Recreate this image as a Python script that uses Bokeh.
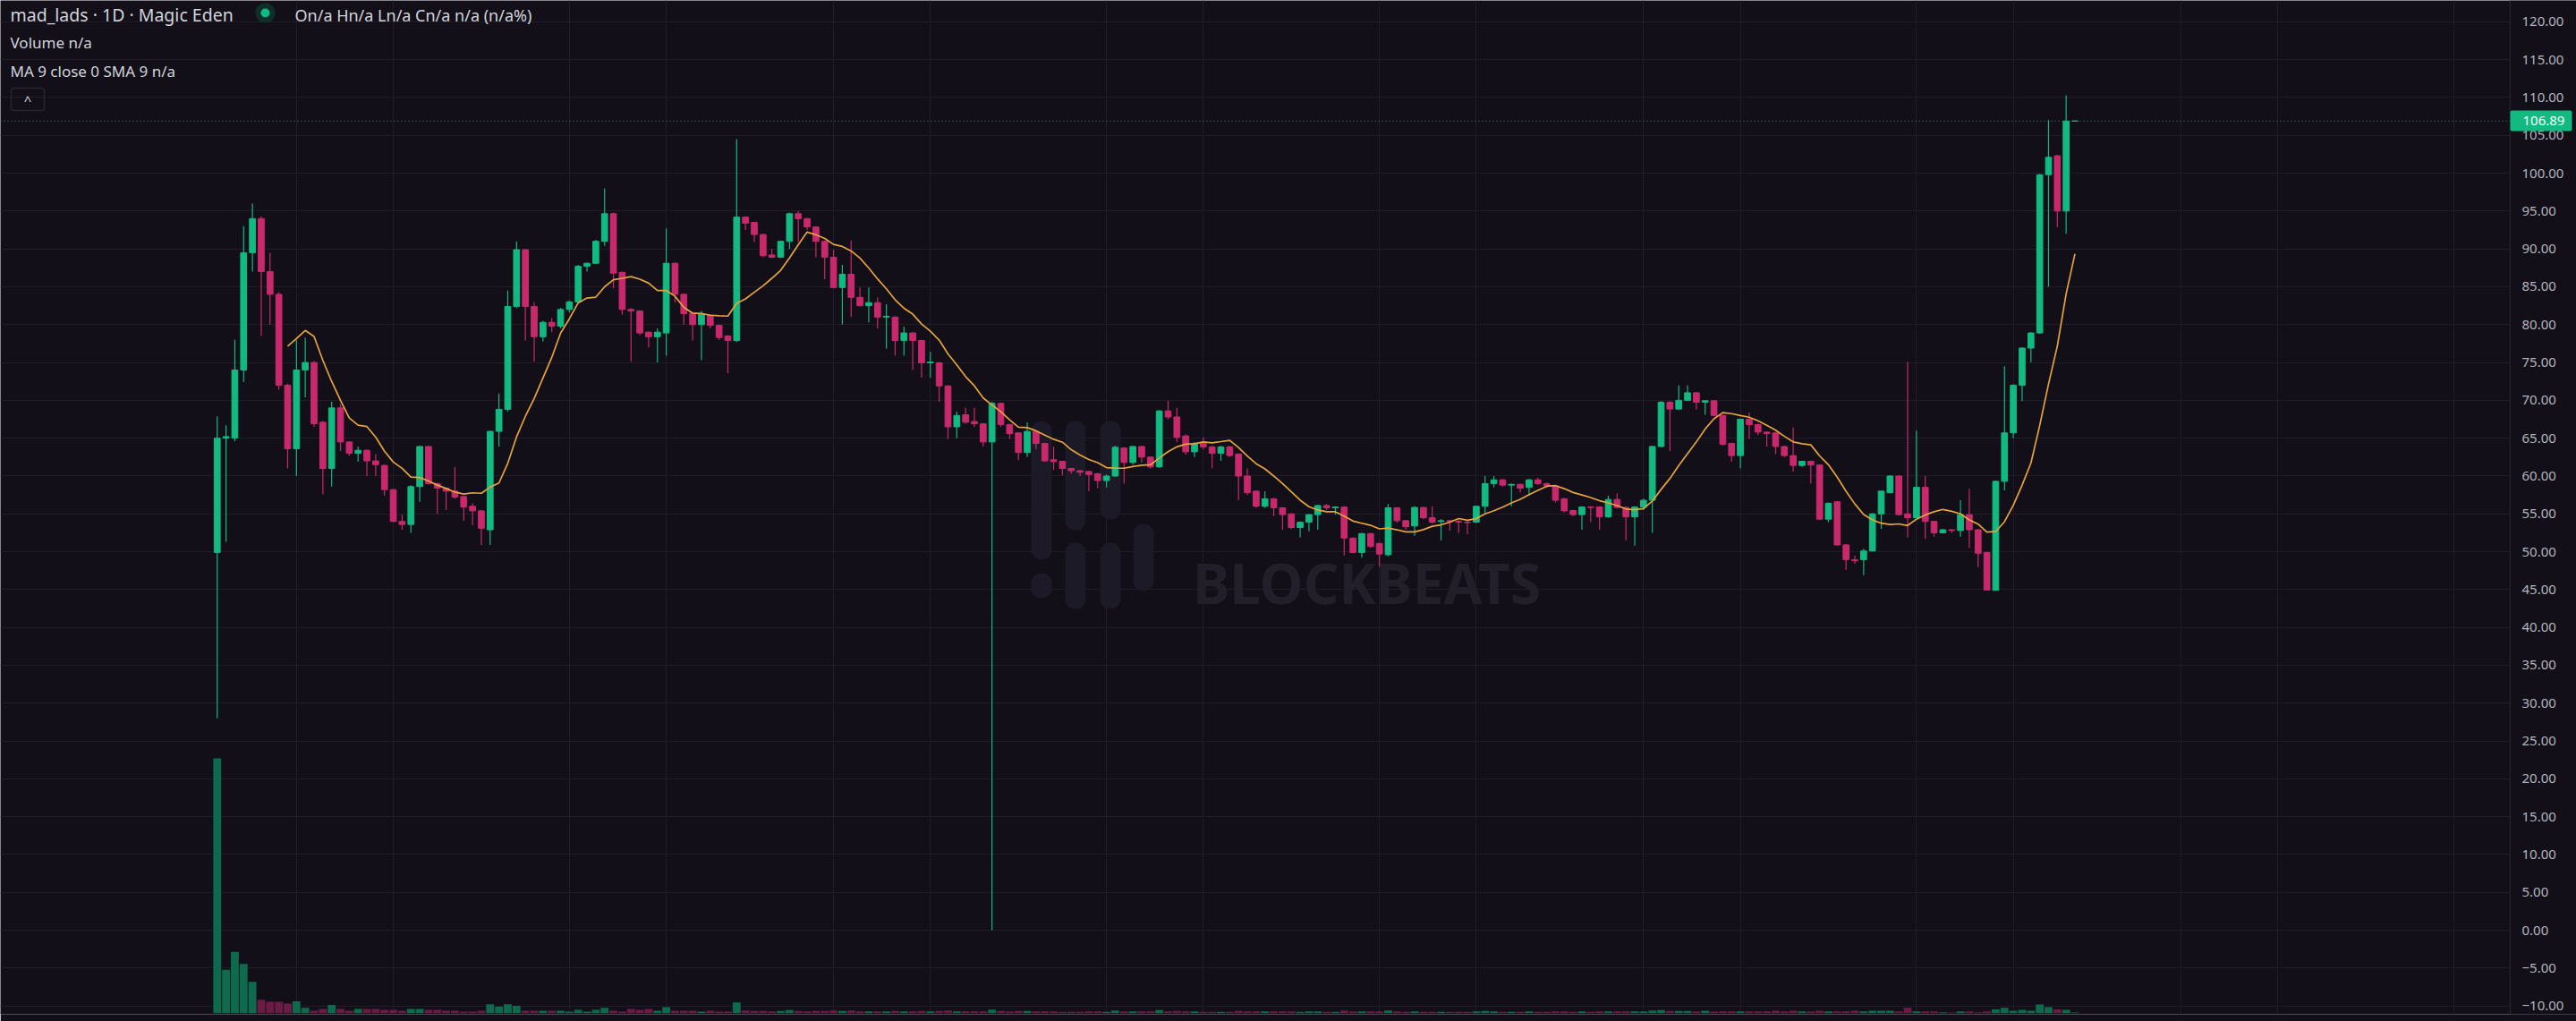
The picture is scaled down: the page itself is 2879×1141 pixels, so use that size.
import pandas as pd
from bokeh.plotting import figure
from bokeh.models import Range1d, FixedTicker, ColumnDataSource, Span, Label, BoxAnnotation
from bokeh.embed import file_html
from bokeh.resources import INLINE

# ---- data (daily candles, index 0 = first trading day) ----
opens = [
    49.9, 65.0, 65.0, 74.0, 89.5, 94.0, 87.0, 84.0, 72.0, 63.6,
    74.0, 75.0, 67.1, 61.0, 69.0, 64.5, 63.0, 63.4, 62.0, 61.4,
    58.2, 54.0, 53.6, 58.6, 63.9, 59.0, 58.4, 58.0, 57.3, 56.0,
    55.4, 52.9, 65.9, 68.8, 82.4, 89.9, 82.4, 78.4, 80.3, 79.8,
    82.0, 83.0, 87.7, 88.1, 91.0, 94.65, 86.9, 82.0, 81.8, 79.0,
    78.4, 78.9, 88.1, 84.0, 81.5, 80.0, 81.25, 79.9, 78.5, 77.9,
    94.2, 93.5, 91.9, 89.2, 88.9, 91.0, 94.65, 94.0, 92.9, 91.0,
    88.9, 84.9, 86.65, 83.6, 82.5, 82.9, 81.0, 81.0, 77.9, 78.9,
    77.9, 74.95, 74.95, 71.9, 66.5, 68.1, 67.2, 66.9, 64.5, 69.6,
    66.8, 65.7, 63.1, 65.9, 64.3, 62.15, 61.95, 61.0, 60.7, 60.6,
    60.3, 59.4, 60.0, 63.7, 61.8, 63.9, 62.5, 61.2, 68.6, 67.8,
    65.3, 63.2, 64.3, 63.85, 63.0, 63.85, 62.9, 60.0, 58.0, 56.0,
    57.0, 55.8, 55.0, 53.2, 53.9, 54.9, 56.1, 55.8, 55.9, 51.8,
    49.9, 52.4, 51.1, 49.6, 55.8, 54.1, 53.4, 55.85, 54.5, 54.0,
    54.1, 54.0, 53.9, 53.9, 56.0, 59.0, 59.5, 58.8, 58.9, 58.5,
    59.5, 59.0, 58.7, 57.0, 55.45, 54.9, 55.9, 55.9, 54.6, 56.9,
    55.85, 54.6, 55.9, 56.8, 63.9, 69.75, 68.85, 70.0, 71.0, 69.75,
    69.95, 68.0, 64.3, 62.7, 67.5, 66.8, 65.8, 65.7, 63.9, 62.7,
    61.4, 61.95, 61.45, 54.3, 56.6, 50.9, 48.95, 48.95, 50.1, 55.0,
    57.8, 60.0, 55.0, 54.5, 58.5, 54.0, 52.5, 52.9, 52.8, 54.9,
    52.9, 49.9, 44.9, 59.3, 65.7, 72.0, 76.9, 78.9, 99.8, 102.3,
    95.0, 106.89,
]
highs = [
    67.9, 66.7, 78.0, 93.0, 96.0, 94.3, 89.5, 84.3, 72.2, 78.0,
    78.3, 75.2, 67.3, 69.8, 69.5, 64.6, 63.9, 63.5, 62.9, 61.5,
    58.3, 54.9, 58.8, 64.0, 64.0, 59.1, 58.5, 61.2, 57.4, 56.4,
    55.5, 66.0, 70.9, 84.5, 91.0, 90.0, 83.0, 80.5, 80.9, 82.2,
    83.2, 87.9, 88.2, 91.2, 98.0, 94.8, 87.0, 82.2, 81.9, 79.1,
    79.5, 92.7, 88.2, 84.1, 81.6, 81.8, 81.4, 80.0, 78.6, 104.5,
    94.3, 93.6, 92.0, 90.0, 91.1, 94.8, 95.0, 94.1, 93.0, 91.1,
    89.9, 87.9, 91.1, 84.9, 84.9, 83.6, 82.7, 81.1, 79.75, 79.0,
    78.0, 76.4, 75.1, 72.0, 68.5, 69.0, 69.0, 67.0, 69.8, 69.7,
    66.9, 65.8, 67.1, 66.0, 64.4, 63.9, 62.0, 61.1, 60.8, 60.7,
    60.4, 60.2, 64.0, 63.8, 64.0, 64.0, 62.6, 68.7, 69.95, 69.0,
    65.5, 64.5, 65.1, 64.0, 64.0, 64.0, 63.0, 61.0, 58.1, 58.0,
    57.1, 55.9, 55.1, 54.0, 55.0, 56.2, 56.3, 56.0, 56.0, 51.9,
    52.5, 52.5, 51.2, 56.3, 55.9, 54.2, 56.0, 55.9, 56.0, 54.3,
    54.2, 54.2, 54.1, 56.1, 60.0, 60.0, 59.6, 59.0, 59.0, 59.6,
    59.8, 59.1, 58.8, 57.1, 55.5, 56.0, 56.0, 56.0, 57.4, 57.7,
    56.0, 56.0, 57.0, 64.0, 69.9, 69.9, 72.0, 72.0, 71.1, 70.0,
    70.0, 68.1, 64.4, 67.6, 68.4, 66.9, 65.9, 65.8, 64.0, 66.4,
    62.0, 62.0, 61.5, 56.5, 56.7, 51.0, 49.5, 50.4, 55.1, 58.1,
    60.1, 60.1, 75.1, 66.0, 60.0, 54.1, 53.0, 53.0, 56.8, 58.3,
    53.0, 50.0, 59.4, 74.5, 72.1, 77.0, 79.0, 99.9, 107.0, 102.4,
    110.3, 106.89,
]
lows = [
    28.0, 51.3, 64.6, 72.4, 87.0, 78.5, 80.0, 71.4, 61.0, 60.0,
    70.4, 66.5, 57.6, 58.6, 63.3, 62.7, 61.9, 60.0, 60.0, 57.4,
    53.9, 52.9, 52.5, 56.6, 58.9, 55.0, 55.5, 57.0, 54.1, 53.5,
    50.9, 50.9, 63.9, 68.5, 82.2, 77.9, 75.1, 77.8, 79.0, 79.5,
    81.6, 82.8, 87.0, 88.0, 90.4, 84.8, 81.3, 75.1, 78.6, 77.0,
    75.0, 75.9, 82.9, 80.0, 77.9, 75.3, 79.5, 78.0, 73.6, 77.7,
    92.5, 90.9, 88.9, 88.8, 88.8, 90.0, 90.9, 92.5, 88.9, 86.0,
    84.8, 80.0, 81.0, 82.4, 80.3, 79.5, 76.8, 75.9, 75.9, 74.0,
    73.0, 73.0, 69.8, 64.9, 65.0, 66.9, 66.5, 63.9, 0.0, 66.5,
    64.9, 62.1, 62.5, 63.5, 61.9, 60.8, 60.1, 60.3, 60.0, 58.0,
    58.4, 58.5, 59.9, 59.0, 61.5, 61.8, 61.0, 61.1, 67.5, 64.5,
    62.8, 62.5, 63.5, 61.0, 62.0, 62.5, 56.8, 57.5, 55.8, 55.8,
    54.7, 52.9, 53.0, 51.9, 52.7, 52.9, 55.5, 54.9, 49.5, 49.8,
    49.2, 50.5, 48.0, 49.4, 53.8, 52.9, 52.1, 54.3, 53.7, 51.5,
    52.8, 52.5, 52.3, 53.8, 55.0, 58.5, 58.6, 56.0, 57.8, 57.4,
    58.8, 58.5, 56.5, 55.2, 54.7, 52.9, 53.9, 52.9, 54.5, 55.7,
    51.5, 50.8, 55.5, 52.5, 63.8, 63.3, 68.7, 69.9, 68.8, 68.1,
    67.9, 64.0, 61.9, 61.0, 64.9, 65.4, 63.9, 62.9, 62.5, 60.6,
    61.2, 59.0, 54.2, 53.9, 50.8, 47.6, 48.4, 46.9, 50.0, 53.0,
    57.7, 54.8, 51.9, 54.4, 51.7, 52.0, 52.4, 52.5, 52.0, 50.5,
    47.9, 44.9, 44.85, 58.1, 65.0, 69.9, 75.0, 78.8, 85.0, 92.9,
    92.0, 106.89,
]
closes = [
    65.0, 65.2, 74.0, 89.5, 94.0, 87.0, 84.0, 72.0, 63.6, 74.0,
    75.0, 66.9, 61.0, 69.0, 64.5, 63.0, 63.4, 62.0, 61.5, 58.2,
    54.0, 53.6, 58.6, 63.9, 59.0, 58.4, 58.0, 57.2, 55.9, 55.4,
    53.1, 65.9, 68.8, 82.4, 89.9, 82.4, 78.4, 80.3, 79.8, 82.0,
    83.0, 87.7, 88.1, 91.0, 94.65, 86.8, 82.0, 81.8, 78.9, 78.4,
    79.0, 88.1, 84.0, 81.45, 80.0, 81.45, 79.9, 78.3, 77.9, 94.2,
    93.4, 91.9, 89.1, 88.9, 91.0, 94.65, 94.0, 92.9, 91.0, 88.9,
    84.9, 86.65, 83.6, 82.5, 82.9, 81.0, 81.1, 77.9, 78.9, 77.9,
    74.95, 75.05, 71.9, 66.5, 68.0, 67.1, 66.9, 64.5, 69.6, 66.8,
    65.6, 63.1, 65.9, 64.3, 62.0, 61.9, 61.0, 60.7, 60.5, 60.2,
    59.4, 60.0, 63.8, 61.8, 63.9, 62.5, 61.2, 68.6, 67.8, 65.1,
    63.2, 64.3, 63.85, 63.0, 63.85, 62.7, 60.0, 57.8, 56.0, 57.0,
    55.8, 54.9, 53.2, 53.9, 54.9, 56.1, 55.8, 55.9, 51.8, 49.9,
    52.4, 50.7, 49.7, 55.8, 54.1, 53.3, 55.85, 54.5, 53.9, 54.1,
    54.0, 53.9, 53.85, 56.0, 59.0, 59.5, 58.8, 58.9, 58.4, 59.5,
    59.0, 58.7, 56.8, 55.4, 54.9, 55.9, 55.85, 54.6, 56.9, 55.85,
    54.6, 55.9, 56.8, 63.9, 69.75, 68.85, 70.0, 71.0, 69.75, 69.95,
    68.0, 64.2, 62.7, 67.5, 66.8, 65.8, 65.6, 63.9, 62.7, 61.4,
    61.95, 61.45, 54.3, 56.4, 50.9, 48.95, 48.8, 50.1, 55.0, 58.0,
    60.0, 54.9, 54.5, 58.5, 54.0, 52.5, 52.9, 52.8, 54.9, 52.9,
    49.8, 44.95, 59.3, 65.7, 72.0, 76.9, 78.9, 99.8, 102.1, 95.0,
    106.89, 106.89,
]
volumes = [
    284.8, 48.4, 68.4, 55.0, 35.0, 15.0, 12.7, 12.7, 10.7, 13.3,
    6.0, 2.7, 4.7, 9.3, 4.7, 2.7, 4.7, 4.7, 4.7, 3.7,
    3.7, 2.7, 4.7, 4.7, 3.7, 3.7, 2.7, 2.7, 1.7, 1.7,
    2.7, 10.0, 7.3, 10.0, 8.3, 2.7, 2.7, 2.7, 2.7, 2.7,
    1.7, 3.7, 1.7, 3.7, 6.0, 2.7, 1.7, 4.7, 3.7, 4.7,
    2.7, 6.7, 2.7, 2.7, 2.7, 1.7, 2.7, 1.7, 1.7, 12.0,
    3.0, 2.5, 2.5, 2.0, 2.5, 3.5, 2.5, 2.0, 2.5, 2.5,
    3.0, 2.5, 3.0, 2.0, 2.0, 2.0, 2.0, 2.5, 2.0, 2.0,
    2.5, 2.0, 2.5, 3.0, 2.0, 2.0, 2.0, 2.0, 4.0, 2.5,
    2.0, 2.5, 2.5, 2.0, 2.0, 2.0, 1.5, 1.5, 1.5, 2.0,
    2.0, 1.5, 3.0, 2.0, 2.0, 2.0, 2.0, 3.5, 2.0, 2.5,
    2.0, 2.0, 1.5, 1.5, 1.5, 1.5, 2.5, 2.0, 2.0, 2.0,
    2.0, 2.0, 2.0, 1.5, 2.0, 2.0, 1.5, 1.5, 3.0, 2.0,
    2.0, 2.0, 2.0, 3.0, 2.0, 1.5, 2.0, 1.5, 1.5, 1.5,
    1.5, 1.5, 1.5, 2.0, 2.5, 2.0, 1.5, 1.5, 1.5, 2.0,
    1.5, 1.5, 2.0, 2.0, 1.5, 2.0, 1.5, 2.0, 2.0, 2.0,
    2.0, 2.0, 2.0, 3.0, 3.5, 2.5, 2.5, 2.5, 2.0, 2.7,
    1.7, 2.0, 2.0, 2.0, 2.0, 2.0, 2.0, 2.7, 2.0, 2.7,
    2.0, 2.0, 2.7, 2.0, 2.0, 2.0, 2.7, 2.0, 2.7, 2.7,
    2.7, 2.0, 6.0, 2.0, 2.0, 2.0, 1.0, 0.7, 2.0, 2.0,
    1.0, 2.0, 4.3, 6.0, 2.7, 3.7, 2.7, 9.7, 6.7, 4.3,
    3.7, 0.7,
]
price_ticks = list(range(-10, 121, 5))
# day indices of the time-scale grid lines (1st and 12th of each month)
date_grid = [9, 20, 40, 51, 70, 81, 101, 112, 132, 143, 162, 173, 193, 204, 223, 234, 254]
last_price = 106.89
scale_edge = 260.42  # day position where the price scale begins

# ---- styles ----
BG = "#120f18"
GRID = "#201d28"
UP = "#12b981"
DOWN = "#c8296c"
VUP = "#0e6a4d"
VDOWN = "#6a1c45"
MA_COL = "#e5a33d"
TXT = "#d1d4dc"
AXT = "#b2b5be"
WM = "#1b1a26"
FONT = "Noto Sans"

n = len(closes)
days = list(range(n))
ma9 = pd.Series(closes).rolling(9).mean()
up = [c >= o for o, c in zip(opens, closes)]

src = ColumnDataSource(dict(
    x=days, o=opens, h=highs, l=lows, c=closes, v=volumes,
    top=[max(o, c) for o, c in zip(opens, closes)],
    bot=[min(o, c) for o, c in zip(opens, closes)],
    color=[UP if u else DOWN for u in up],
    vcolor=[VUP if u else VDOWN for u in up],
))
ma_src = ColumnDataSource(dict(x=days[8:], y=list(ma9[8:])))

W, H = 2879, 1141
FB = 1133  # frame bottom (px from top)
p = figure(width=W, height=H, output_backend="svg", toolbar_location=None,
           x_range=Range1d(-24.62, 267.96), y_range=Range1d(-11.10, 122.82),
           x_axis_location=None, y_axis_location="right",
           min_border_left=0, min_border_top=0, min_border_bottom=H - FB, min_border_right=0,
           background_fill_color=BG, border_fill_color=BG, outline_line_color=None)
p.extra_y_ranges = {"vol": Range1d(-1.3, 1131.7)}

# grids
p.ygrid.ticker = FixedTicker(ticks=price_ticks)
p.ygrid.grid_line_color = GRID
p.xgrid.ticker = FixedTicker(ticks=date_grid)
p.xgrid.grid_line_color = GRID

# price axis (labels pulled back over the price-scale strip)
ax = p.yaxis[0]
ax.ticker = FixedTicker(ticks=price_ticks)
ax.major_label_overrides = {t: f"{t:.2f}".replace("-", "\u2212") for t in price_ticks}
ax.major_label_text_font = FONT
ax.major_label_text_font_size = "15px"
ax.major_label_text_color = AXT
ax.major_label_standoff = -61
ax.major_tick_out = 0
ax.major_tick_in = 0
ax.minor_tick_out = 0
ax.minor_tick_in = 0
ax.major_tick_line_color = None
ax.minor_tick_line_color = None
ax.axis_line_color = None


def sbox(left, right, top, bottom, **kw):
    p.add_layout(BoxAnnotation(left=left, right=right, bottom=FB - bottom, top=FB - top,
                               left_units="screen", right_units="screen",
                               top_units="screen", bottom_units="screen", **kw))


def lab(x, y, text, size, color=TXT, **kw):
    p.add_layout(Label(x=x, y=FB - y, x_units="screen", y_units="screen", text=text,
                       text_font=FONT, text_font_size=size, text_color=color,
                       text_baseline="middle", **kw))


# last price line (dotted), then the price-scale strip over it
p.add_layout(Span(location=last_price, dimension="width", line_color=UP, line_dash="1 3",
                  line_width=1, line_alpha=0.85, level="underlay"))
p.add_layout(BoxAnnotation(left=scale_edge, fill_color=BG, fill_alpha=1.0, line_color=None,
                           level="underlay"))
p.add_layout(Span(location=scale_edge, dimension="height", line_color="#2c2935",
                  line_width=1, level="underlay"))

# faint watermark (logo bars + name)
for (l, r, t, b) in [(1152, 1175, 470, 625), (1152, 1175, 640, 668),
                     (1190, 1213, 470, 592), (1190, 1213, 606, 680),
                     (1229, 1252, 470, 580), (1229, 1252, 606, 680),
                     (1266, 1289, 585, 660)]:
    sbox(l, r, t, b, fill_color=WM, fill_alpha=1.0, line_color=None, border_radius=11,
         level="underlay")
lab(1527, 650, "BLOCKBEATS", "62px", color="#221f2b", text_align="center",
    text_font_style="bold", level="underlay")

# volume
p.vbar(x="x", top="v", bottom=0, width=0.9, fill_color="vcolor", line_color=None,
       y_range_name="vol", source=src)
# candles
p.segment(x0="x", y0="l", x1="x", y1="h", line_color="color", line_width=1.2, source=src)
p.vbar(x="x", top="top", bottom="bot", width=0.68, fill_color="color", line_color="color",
       line_width=1, source=src)
# moving average
p.line(x="x", y="y", source=ma_src, line_color=MA_COL, line_width=1.7)

# price tag on the scale
sbox(2805, 2874, 123, 146, fill_color=UP, fill_alpha=1.0, line_color=None, border_radius=2)
lab(2819, 134.5, f"{last_price:.2f}", "15px", color="#ffffff")

# legend texts
lab(11, 15.5, "mad_lads \u00b7 1D \u00b7 Magic Eden", "19.5px")
sbox(285, 307, 3, 25, fill_color="#0f2e27", fill_alpha=1.0, line_color=None, border_radius=10)
sbox(291, 301, 9, 19, fill_color=UP, fill_alpha=1.0, line_color=None, border_radius=5)
lab(329, 16.5, "On/a Hn/a Ln/a Cn/a n/a (n/a%)", "18px")
lab(11, 46.5, "Volume  n/a", "17px")
lab(11, 79, "MA 9 close 0 SMA 9  n/a", "17px")
sbox(12, 49, 98, 123, fill_alpha=0, line_color="#5a5766", line_width=1.5, border_radius=3)
lab(30.5, 111, "^", "15px", text_align="center")

open("out.html", "w").write(file_html(p, INLINE))
